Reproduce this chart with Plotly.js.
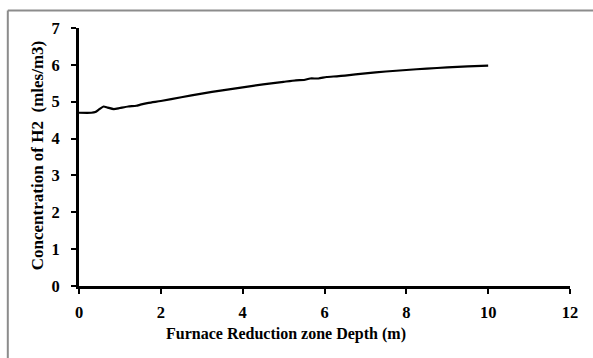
<!DOCTYPE html>
<html><head><meta charset="utf-8">
<script src="https://cdn.plot.ly/plotly-3.0.1.min.js"></script>
<style>html,body{margin:0;padding:0;background:#fff;}#chart{width:593px;height:358px;}</style>
</head><body><div id="chart"></div>
<script>
const depth = [0, 0.3, 0.4, 0.5, 0.6, 0.7, 0.85, 1.0, 1.2, 1.4, 1.5, 1.7, 2, 2.5, 3, 3.5, 4, 4.5, 5, 5.3, 5.5, 5.65, 5.85, 6.05, 6.3, 6.5, 7, 7.5, 8, 8.5, 9, 9.5, 10];
const h2 = [4.70, 4.70, 4.72, 4.80, 4.87, 4.84, 4.80, 4.83, 4.87, 4.89, 4.92, 4.97, 5.02, 5.12, 5.22, 5.31, 5.39, 5.47, 5.54, 5.58, 5.59, 5.63, 5.63, 5.67, 5.69, 5.71, 5.77, 5.82, 5.86, 5.90, 5.93, 5.96, 5.98];
const xTicks = [0, 2, 4, 6, 8, 10, 12];
const yTicks = [0, 1, 2, 3, 4, 5, 6, 7];
const xTitle = "Furnace Reduction zone Depth (m)";
const yTitle = "Concentration of H2  (mles/m3)";

const fam = "Liberation Serif, Times New Roman, serif";
const tf = {family: fam, size: 16.5, color: "#000", weight: "bold"};
const bold = v => "<b>" + v + "</b>";
Plotly.newPlot("chart", [{
  x: depth, y: h2, type: "scatter", mode: "lines",
  line: {color: "#000", width: 2.2, shape: "spline", smoothing: 0.6}
}], {
  width: 593, height: 358,
  margin: {l: 79, r: 23, t: 28, b: 72},
  paper_bgcolor: "#fff", plot_bgcolor: "#fff",
  showlegend: false,
  font: {family: fam, size: 16, color: "#000"},
  xaxis: {
    range: [0, 12], tickmode: "array", tickvals: xTicks, ticktext: xTicks.map(bold),
    showgrid: false, zeroline: false,
    showline: true, linecolor: "#000", linewidth: 3,
    ticks: "outside", ticklen: 5, tickwidth: 2, tickcolor: "#000",
    tickfont: tf, ticklabelstandoff: 4
  },
  yaxis: {
    range: [0, 7], tickmode: "array", tickvals: yTicks, ticktext: yTicks.map(bold),
    showgrid: false, zeroline: false,
    showline: true, linecolor: "#000", linewidth: 3,
    ticks: "outside", ticklen: 5, tickwidth: 2, tickcolor: "#000",
    tickfont: tf, ticklabelstandoff: 8
  },
  annotations: [
    {text: "<b>" + xTitle + "</b>", xref: "paper", yref: "paper", x: 0.4216, y: -0.185,
     xanchor: "center", yanchor: "middle", showarrow: false, font: {family: fam, size: 16, color: "#000"}},
    {text: "<b>" + yTitle + "</b>", xref: "paper", yref: "paper", x: -0.083, y: 0.504, textangle: -90,
     xanchor: "center", yanchor: "middle", showarrow: false, font: {family: fam, size: 17, color: "#000"}}
  ],
  shapes: [
    {type: "line", xref: "paper", yref: "paper", x0: -0.145, x1: 1.1, y0: 1.068, y1: 1.068, line: {color: "#8c8c8c", width: 2}},
    {type: "line", xref: "paper", yref: "paper", x0: -0.145, x1: -0.145, y0: 1.068, y1: -0.3, line: {color: "#8c8c8c", width: 2}}
  ]
}, {displayModeBar: false, staticPlot: true});
</script></body></html>
